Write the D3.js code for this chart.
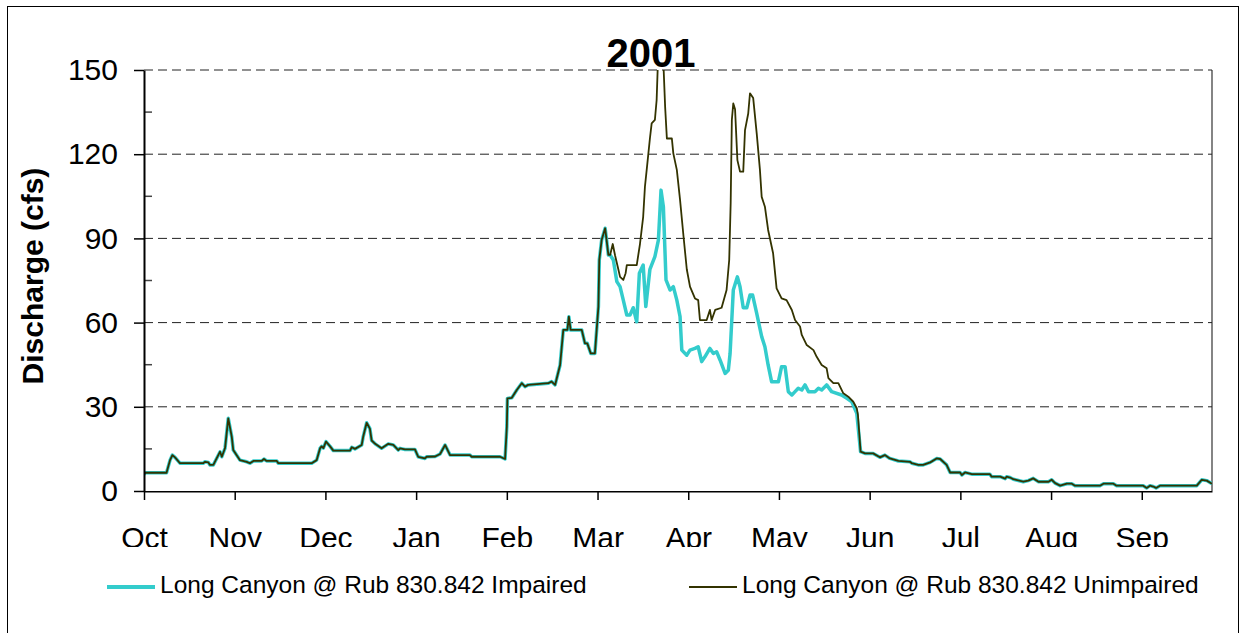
<!DOCTYPE html>
<html>
<head>
<meta charset="utf-8">
<script src="https://cdn.jsdelivr.net/npm/d3@7"></script>
<style>
    body { margin: 0; background: #fff; }
    svg { font-family: Arial, "Liberation Sans", sans-serif; }
    .axis path, .axis line { stroke: #000; }
</style>
</head>
<body>
<div id="vis"></div>
<script>
// Daily discharge (cfs), given as [day since Oct 1 2000, value] breakpoints
var sharedFall = [
    [0, 6.0], [0.5, 6.5], [7.7, 6.5], [8.9, 11], [9.7, 12.8], [10.6, 12], [12.3, 9.9], [20.3, 9.9],
    [20.8, 10.4], [22, 10.2], [22.5, 9.3], [23.7, 9.3], [26, 14], [26.6, 12.2], [27.7, 15.3],
    [28.8, 25.9], [30, 19.3], [30.5, 14.6], [32.8, 11], [35.1, 10.4], [36.2, 9.9], [37.4, 10.7],
    [40.2, 10.7], [41, 11.4], [41.9, 10.7], [45.4, 10.7], [45.9, 9.9], [57.3, 9.9], [59, 11],
    [60.2, 15.3], [60.7, 15.9], [61.3, 15.3], [62.2, 17.6], [63.6, 15.9], [64.7, 14.4], [70.4, 14.4],
    [71, 15.6], [72.1, 15], [74.4, 16.4], [74.9, 19.3], [76.1, 24.3], [77.2, 22.2], [77.8, 18],
    [79, 16.8], [81.2, 15.2], [83.5, 16.8], [85.2, 16.4], [86.9, 14.6], [87.5, 15.2], [89.2, 14.8],
    [92.6, 14.8], [93.7, 12.2], [96, 11.6], [96.6, 12.2], [99.5, 12.3], [101.2, 13.2], [102.9, 16.4],
    [104.6, 12.8], [111.4, 12.8], [112, 12.2], [121.7, 12.2], [123.4, 11.4], [124, 22.9], [124.2, 33],
    [125.7, 33.2], [127.4, 36], [129.1, 38.4], [130.2, 37.2], [131.3, 37.8], [138.2, 38.4],
    [139.3, 39], [140.5, 37.8], [142.2, 44.9], [143.3, 57.4], [144.7, 57.4], [145.2, 62.1],
    [145.8, 57.4], [149.6, 57.4], [150.7, 52.6], [151.5, 52.6], [152.7, 49], [154.1, 49],
    [155.3, 65.7], [155.6, 82.3], [156.4, 89.4], [157.6, 93.6], [158.1, 89.4], [158.7, 84.1], [159.3, 84.1]
];

var impairedSpring = [
    [160.4, 82.3], [161.6, 74.6], [162.7, 72.8], [163.8, 68], [165, 62.7], [166.1, 62.7], [167.2, 65.3],
    [168.4, 60.3], [169.3, 77.6], [170.6, 80.5], [171.5, 65.7], [172.9, 79], [174.6, 83.5], [175.8, 89.4],
    [176.7, 107.2], [177.5, 101.3], [178.4, 75.2], [179.8, 71.6], [180.9, 72.8], [182.1, 68], [183.2, 62.1],
    [183.8, 50.2], [185.5, 48.4], [186.6, 50.2], [188.3, 50.8], [189.4, 51.4], [190.6, 46.1], [191.7, 47.8],
    [193.4, 50.8], [194.6, 49], [195.7, 49.6], [196.9, 46.6], [198.6, 41.9], [199.7, 43], [200.3, 49],
    [201.4, 71.6], [202.8, 76.3], [203.7, 72.8], [204.8, 65.3], [206, 65.3], [207.1, 69.8], [208, 69.8],
    [209.4, 63.3], [211.1, 55], [212.2, 51.4], [213.3, 44.9], [214.5, 38.9], [216.8, 38.9], [217.9, 44.3],
    [219.1, 44.3], [220.2, 35.4], [221.4, 34.2], [222.5, 35.4], [223.6, 36.6], [224.8, 36], [225.9, 37.8],
    [227.1, 35.4], [229.3, 35.4], [230.5, 36.6], [231.6, 36], [233.3, 37.8], [235, 35.4], [238.4, 34.2],
    [240.2, 33], [241.9, 31.8], [243.6, 27.7]
];

var unimpairedSpring = [
    [160.2, 88], [161, 83.9], [162.1, 79], [162.7, 76.3], [163.8, 75.2], [164.6, 77.6], [165, 80.5],
    [168.4, 80.5], [169.5, 88], [170.6, 97.7], [171.2, 108.4], [171.8, 114.4], [172.9, 125.6], [173.5, 131],
    [174.6, 132.2], [175.2, 139.3], [175.8, 158], [177.3, 158], [178.1, 136.9], [178.7, 125.6],
    [180.4, 125.6], [180.9, 120.3], [182.1, 114.4], [183.2, 103.7], [184.4, 90.6], [185.5, 79],
    [186.6, 72.8], [188.3, 68.6], [189.4, 68], [190, 60.9], [192.3, 60.9], [193.4, 64.5], [194, 60.9],
    [195.2, 64.5], [197.4, 65.3], [199.1, 71.6], [200, 82.3], [200.5, 102.5], [200.9, 132.2],
    [201.4, 138.1], [202, 136], [202.8, 117.9], [203.7, 113.8], [204.8, 113.8], [205.4, 128.6],
    [206.5, 134.5], [207.1, 141.7], [208.2, 140], [209.4, 127.4], [210.5, 114.4], [211.1, 104.8],
    [212.2, 101.3], [213.3, 93], [215, 84.7], [216.2, 72.2], [217.9, 68.6], [219.6, 68], [221.4, 64.5],
    [222.5, 60.9], [224.2, 58.6], [224.8, 55.6], [226.5, 52], [228.8, 50.2], [229.9, 47.8], [231.6, 44.9],
    [233.3, 43.7], [233.9, 40.2], [235.6, 38.4], [237.3, 38.4], [239, 34.8], [240.7, 33.6], [242.4, 31.8],
    [243.6, 29.5], [244, 27]
];

var sharedSummer = [
    [244.9, 14], [246.4, 13.4], [249.2, 13.4], [251.5, 12], [253.2, 12.8], [254.9, 11.6], [257.8, 10.7],
    [261.8, 10.4], [262.4, 9.9], [264.6, 9.3], [266.3, 9.3], [268.7, 10.2], [270.9, 11.6], [272.1, 11.4],
    [274.3, 9.3], [275.5, 6.6], [278.9, 6.6], [279.5, 5.7], [280.6, 6.6], [282.9, 6], [289.1, 6],
    [289.7, 5.1], [292.6, 5.1], [294.3, 4.4], [294.8, 5.1], [296, 4.8], [297.1, 4.2], [300.5, 3.3],
    [302.2, 3.7], [303.9, 4.5], [305.7, 3.3], [309.1, 3.3], [310.2, 4], [311.4, 2.8], [313.1, 1.9],
    [315.4, 2.6], [317.1, 2.6], [318.2, 1.9], [326.7, 1.9], [327.9, 2.6], [331.3, 2.6], [332.4, 1.9],
    [341.5, 1.9], [342.7, 1.1], [343.8, 1.9], [344.9, 1.6], [345.9, 1.1], [347.2, 1.9], [359.8, 1.9],
    [361.5, 4], [363.2, 3.7], [365, 2.6]
];

var yTicks = [0, 30, 60, 90, 120, 150];
var yMinorTicks = [15, 45, 75, 105, 135];
// category-style axis: a labelled tick every 31 days
var xTickDays = [0, 31, 62, 93, 124, 155, 186, 217, 248, 279, 310, 341];
var seriesNames = ['Long Canyon @ Rub 830.842 Impaired', 'Long Canyon @ Rub 830.842 Unimpaired'];
var seriesColors = ['#33CCCC', '#333300'];

var impaired = sharedFall.concat(impairedSpring, sharedSummer);
var unimpaired = sharedFall.concat(unimpairedSpring, sharedSummer);

var width = 1243, height = 633;
var margin = { left: 144, top: 70, right: 31, bottom: 142 };
var drawWidth = width - margin.left - margin.right;
var drawHeight = height - margin.top - margin.bottom;

var start = new Date(2000, 9, 1);
var toDate = function (day) { return new Date(start.getTime() + day * 864e5); };
var monthFormat = d3.timeFormat('%b');

var svg = d3.select('#vis').append('svg')
    .attr('width', width)
    .attr('height', height);

// outer frame
svg.append('rect')
    .attr('x', 7.5).attr('y', 6.5)
    .attr('width', 1231).attr('height', 640)
    .attr('fill', '#fff').attr('stroke', '#000');

var xScale = d3.scaleLinear().domain([0, 365]).range([0, drawWidth]);
var yScale = d3.scaleLinear().domain([0, 150]).range([drawHeight, 0]);

var g = svg.append('g')
    .attr('transform', 'translate(' + margin.left + ',' + margin.top + ')');

svg.append('defs').append('clipPath').attr('id', 'plotClip')
    .append('rect').attr('width', drawWidth).attr('height', drawHeight);
svg.select('defs').append('clipPath').attr('id', 'labelClip')
    .append('rect').attr('x', -60).attr('y', 0).attr('width', drawWidth + 120).attr('height', 56);

// right border
g.append('line')
    .attr('x1', drawWidth).attr('x2', drawWidth)
    .attr('y1', 0).attr('y2', drawHeight)
    .attr('stroke', '#333').attr('stroke-width', 1.2);

// dashed gridlines
g.selectAll('.grid').data(yTicks.slice(1)).enter().append('line')
    .attr('class', 'grid')
    .attr('x1', 0).attr('x2', drawWidth)
    .attr('y1', function (d) { return yScale(d); })
    .attr('y2', function (d) { return yScale(d); })
    .attr('stroke', '#222')
    .attr('stroke-width', 1)
    .attr('stroke-dasharray', '9,5');

// minor y ticks (inside)
g.selectAll('.minor').data(yMinorTicks).enter().append('line')
    .attr('class', 'minor')
    .attr('x1', 0).attr('x2', 8)
    .attr('y1', function (d) { return yScale(d); })
    .attr('y2', function (d) { return yScale(d); })
    .attr('stroke', '#444').attr('stroke-width', 1.5);

var line = d3.line()
    .x(function (d) { return xScale(d[0]); })
    .y(function (d) { return yScale(d[1]); });

var lines = g.append('g').attr('clip-path', 'url(#plotClip)');
lines.append('path').datum(impaired)
    .attr('d', line)
    .attr('fill', 'none')
    .attr('stroke', seriesColors[0])
    .attr('stroke-width', 3.5)
    .attr('stroke-linejoin', 'round');
lines.append('path').datum(unimpaired)
    .attr('d', line)
    .attr('fill', 'none')
    .attr('stroke', seriesColors[1])
    .attr('stroke-width', 1.8)
    .attr('stroke-linejoin', 'round');

// axes
var xAxis = d3.axisBottom(xScale)
    .tickValues(xTickDays)
    .tickSize(9)
    .tickSizeOuter(0)
    .tickPadding(27)
    .tickFormat(function (d) { return monthFormat(toDate(d)); });

var xAxisG = g.append('g')
    .attr('class', 'axis')
    .attr('transform', 'translate(0,' + drawHeight + ')')
    .call(xAxis);
xAxisG.select('.domain').attr('stroke-width', 2);
xAxisG.selectAll('.tick line').attr('stroke', '#444').attr('stroke-width', 1.5);
xAxisG.selectAll('.tick text')
    .attr('font-size', 30)
    .attr('fill', '#000')
    .attr('font-family', 'Arial, "Liberation Sans", sans-serif');
xAxisG.attr('clip-path', 'url(#labelClip)');

var yAxis = d3.axisLeft(yScale)
    .tickValues(yTicks)
    .tickSize(10)
    .tickPadding(16)
    .tickSizeOuter(0);

var yAxisG = g.append('g')
    .attr('class', 'axis')
    .call(yAxis);
yAxisG.select('.domain').attr('stroke-width', 2);
yAxisG.selectAll('.tick line').attr('stroke', '#444').attr('stroke-width', 1.5);
yAxisG.selectAll('.tick text')
    .attr('font-size', 30)
    .attr('fill', '#000')
    .attr('font-family', 'Arial, "Liberation Sans", sans-serif');

// title and y label
svg.append('text')
    .attr('x', 651).attr('y', 67)
    .attr('text-anchor', 'middle')
    .attr('font-size', 40)
    .attr('font-weight', 'bold')
    .text('2001');

svg.append('text')
    .attr('transform', 'translate(43,276) rotate(-90)')
    .attr('text-anchor', 'middle')
    .attr('font-size', 30)
    .attr('font-weight', 'bold')
    .text('Discharge (cfs)');

// legend
var legendX = [107, 689];
var legend = svg.selectAll('.legend').data(seriesNames).enter().append('g')
    .attr('class', 'legend')
    .attr('transform', function (d, i) { return 'translate(' + legendX[i] + ',587)'; });
legend.append('line')
    .attr('x1', 0).attr('x2', 48)
    .attr('stroke', function (d, i) { return seriesColors[i]; })
    .attr('stroke-width', function (d, i) { return i === 0 ? 4 : 2; });
legend.append('text')
    .attr('x', 53).attr('y', 6)
    .attr('font-size', 24.5)
    .text(function (d) { return d; });
</script>
</body>
</html>
